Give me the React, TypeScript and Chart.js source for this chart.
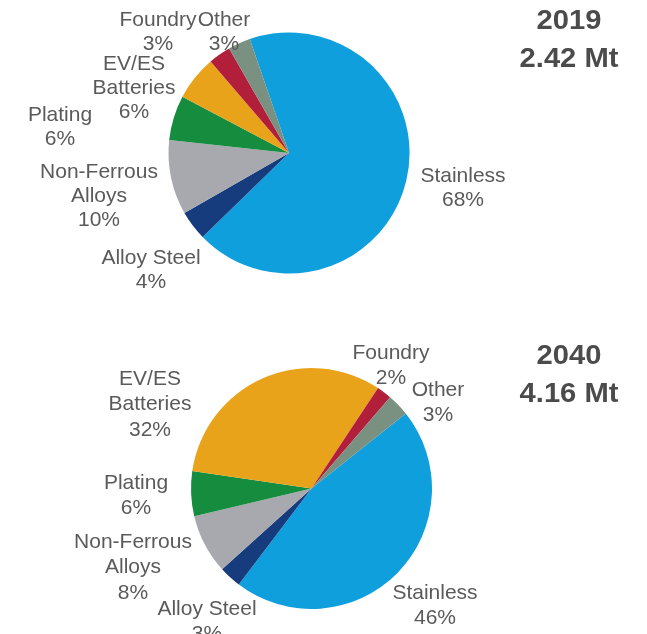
import React, { useEffect, useRef } from 'react';
import { Chart, registerables } from 'chart.js';

Chart.register(...registerables);

// ---- data ----
const categories = ['Stainless', 'Alloy Steel', 'Non-Ferrous Alloys', 'Plating', 'EV/ES Batteries', 'Foundry', 'Other'];
const labelLines = [['Stainless'], ['Alloy Steel'], ['Non-Ferrous', 'Alloys'], ['Plating'], ['EV/ES', 'Batteries'], ['Foundry'], ['Other']];
const share2019 = [68, 4, 10, 6, 6, 3, 3];
const share2040 = [46, 3, 8, 6, 32, 2, 3];
const title2019 = ['2019', '2.42 Mt'];
const title2040 = ['2040', '4.16 Mt'];

// ---- styles / layout ----
const colors = ['#0e9fdc', '#173c7e', '#a8a9ae', '#168c3f', '#e9a31b', '#b21f3a', '#7a9080'];
const labelOffsets2019: [number, number][] = [
  [174, 21.5], [-138, 103], [-190, 17], [-229, -40], [-155, -91], [-131, -135], [-65, -135],
];
const labelOffsets2040: [number, number][] = [
  [123.5, 102.5], [-104.5, 118.5], [-178.5, 51.5], [-175.5, -7.5], [-161.5, -111.5], [79.5, -137.5], [126.5, -100.5],
];

type PieProps = {
  values: number[];
  offsets: [number, number][];
  titles: string[];
  rotation: number;
  padding: { left: number; right: number; top: number; bottom: number };
  lineH: number;
};

function PieBlock({ values, offsets, titles, rotation, padding, lineH }: PieProps) {
  const ref = useRef<HTMLCanvasElement | null>(null);
  useEffect(() => {
    if (!ref.current) return;
    const labelPlugin = {
      id: 'sliceLabels',
      afterDraw(chart: any) {
        const meta = chart.getDatasetMeta(0);
        const arc = meta.data[0];
        if (!arc) return;
        const cx = arc.x;
        const cy = arc.y;
        const ctx = chart.ctx;
        ctx.save();
        ctx.fillStyle = '#5a5a5a';
        ctx.textAlign = 'center';
        ctx.textBaseline = 'alphabetic';
        const fs = 21;
        ctx.font = `${fs}px "Liberation Sans", Arial, sans-serif`;
        values.forEach((v, i) => {
          const lines = [...labelLines[i], `${v}%`];
          const [dx, dy] = offsets[i];
          lines.forEach((t, k) => {
            ctx.fillText(t, cx + dx, cy + dy + k * lineH + fs * 0.358);
          });
        });
        // title
        const tfs = 27;
        ctx.fillStyle = '#4b4b4b';
        ctx.font = `bold ${tfs}px "Liberation Sans", Arial, sans-serif`;
        const tx = 569;
        const tys = [-134, -96];
        titles.forEach((t, k) => {
          ctx.save();
          ctx.translate(tx, cy + tys[k] + tfs * 0.358);
          ctx.scale(1.08, 1);
          ctx.fillText(t, 0, 0);
          ctx.restore();
        });
        ctx.restore();
      },
    };
    const chart = new Chart(ref.current, {
      type: 'pie',
      data: {
        labels: categories,
        datasets: [
          {
            data: values,
            backgroundColor: colors,
            borderWidth: 0,
            hoverOffset: 0,
            offset: 0,
          } as any,
        ],
      },
      options: {
        animation: false,
        responsive: true,
        maintainAspectRatio: false,
        rotation,
        radius: 120.5,
        layout: { padding },
        plugins: {
          legend: { display: false },
          tooltip: { enabled: false },
        },
        events: [],
      } as any,
      plugins: [labelPlugin],
    });
    return () => chart.destroy();
  }, []);
  return (
    <div style={{ position: 'relative', width: 647, height: 317 }}>
      <canvas ref={ref} />
    </div>
  );
}

export default function App() {
  return (
    <div style={{ position: 'absolute', left: 0, top: 0, width: 647, height: 634, background: '#ffffff', overflow: 'hidden' }}>
      <PieBlock
        values={share2019}
        offsets={labelOffsets2019}
        titles={title2019}
        rotation={-19}
        padding={{ left: 168.5, right: 237.5, top: 32.5, bottom: 43.5 }}
        lineH={24}
      />
      <PieBlock
        values={share2040}
        offsets={labelOffsets2040}
        titles={title2040}
        rotation={51.5}
        padding={{ left: 191, right: 215, top: 51, bottom: 25 }}
        lineH={25.5}
      />
    </div>
  );
}
